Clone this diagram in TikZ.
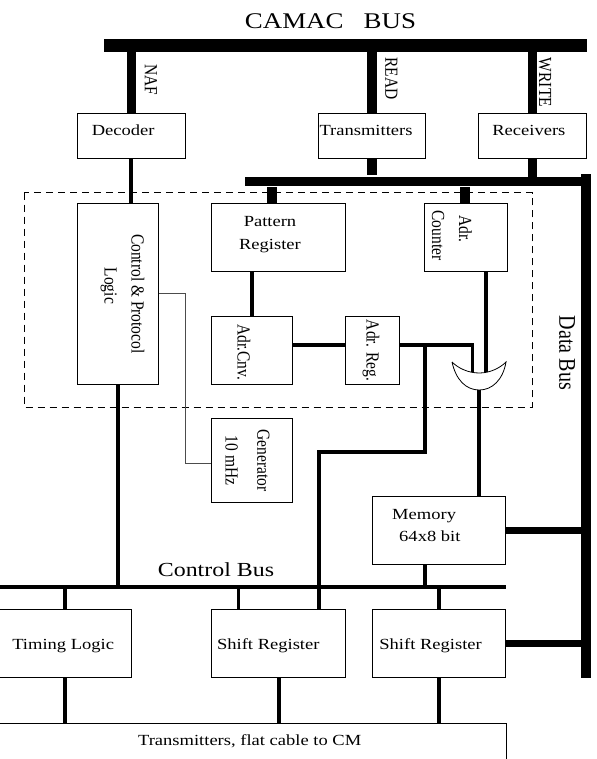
\documentclass[tikz,border=0pt]{standalone}
\usepackage{fontspec}
\setmainfont{Liberation Serif}
\newfontfamily\hfont[FakeStretch=1.2]{Liberation Serif}
\newfontfamily\vfont[FakeStretch=0.84]{Liberation Serif}
\newcommand{\vtxt}[1]{\rotatebox{-90}{\vfont\fontsize{18.5}{27}\selectfont\begin{tabular}{@{}c@{}}#1\end{tabular}}}
\newcommand{\lift}[2]{\raisebox{#1}[0pt][0pt]{#2}}
\tikzset{
  box/.style={draw, line width=0.7pt, fill=white, inner sep=0pt, font=\hfont\fontsize{15.5}{23}\selectfont, align=center},
  bus/.style={draw, fill=black, inner sep=0pt, line width=0pt},
  thickline/.style={line width=9.3bp},
  midline/.style={line width=3.8bp},
  thinline/.style={line width=0.8pt},
  title/.style={inner sep=0pt, anchor=base, font=\hfont\fontsize{22.5}{24}\selectfont},
  siglabel/.style={inner sep=0pt, rotate=-90, font=\vfont\fontsize{18.5}{20}\selectfont},
}
\begin{document}
\begin{tikzpicture}[x=1bp, y=-1bp]
\useasboundingbox (0,0) rectangle (597,759);
% buses
\node[bus, minimum width=481.5bp, minimum height=12.5bp] (camac) at (345.25,45.6) {};
\node[bus, minimum width=345bp, minimum height=8bp] (databus) at (417.5,181) {};
\node[bus, minimum width=9.2bp, minimum height=502.3bp] (datavert) at (586.1,426.15) {};
\node[bus, minimum width=508bp, minimum height=3.7bp] (ctrlbus) at (251.7,587) {};
\node[title] (camactxt) at (330.5,29) {CAMAC\ \ \ BUS};
\node[title, font=\hfont\fontsize{20}{22}\selectfont] (ctrltxt) at (216,576) {Control Bus};
\node[inner sep=0pt, rotate=-90, font=\vfont\fontsize{24}{26}\selectfont] (datatxt) at (567,353) {Data Bus};
% top row
\node[box, minimum width=107.7bp, minimum height=45.2bp] (decoder) at (131.2,135.9) {\lift{0bp}{Decoder}\hspace*{16bp}};
\node[box, minimum width=107.4bp, minimum height=45.2bp] (transm) at (372,135.9) {\lift{0bp}{Transmitters}\hspace*{12bp}};
\node[box, minimum width=107.7bp, minimum height=45.2bp] (receiv) at (532.2,135.9) {\lift{0bp}{Receivers}\hspace*{6.6bp}};
\node[siglabel] (naf) at (151,80) {NAF};
\node[siglabel] (read) at (391.5,78.5) {READ};
\node[siglabel] (write) at (545,82.5) {WRITE};
% dashed area
\draw[dash pattern=on 7bp off 5bp, line width=0.6pt] (24,192.5) rectangle (532,407);
\node[box, minimum width=80.6bp, minimum height=180.3bp] (control) at (118,293.85) {\hspace*{11bp}\vtxt{Control \& Protocol\\Logic\hspace*{16bp}}};
\node[box, minimum width=133.6bp, minimum height=67.6bp] (pattern) at (278.5,237.5) {\lift{0.5bp}{\begin{tabular}{@{}c@{}}Pattern\\Register\end{tabular}}\hspace*{17bp}};
\node[box, minimum width=80.4bp, minimum height=67.6bp] (counter) at (465.5,237.5) {\vtxt{Adr.\hspace*{17bp}\\Counter\hspace*{4bp}}\hspace*{29bp}};
\node[box, minimum width=80.4bp, minimum height=67.8bp] (adrcnv) at (251.9,350.4) {\vtxt{\hspace*{4bp}Adr.Cnv.}\hspace*{18bp}};
\node[box, minimum width=54bp, minimum height=67.8bp] (adrreg) at (372,350.4) {\vtxt{Adr. Reg.}};
\node[box, minimum width=80.4bp, minimum height=84.5bp] (generator) at (251.9,460.5) {\vtxt{Generator\\[5bp]10 mHz}\hspace*{10bp}};
\node[box, minimum width=133.7bp, minimum height=67.6bp] (memory) at (438.85,530.5) {\lift{0.75bp}{\begin{tabular}{@{}c@{}}Memory\hspace*{11.4bp}\\[-1.3bp]64x8 bit\end{tabular}}\hspace*{18bp}};
% bottom row
\node[box, minimum width=134.3bp, minimum height=68bp] (timing) at (64.15,643.3) {\lift{-6bp}{Timing Logic}\hspace*{2bp}};
\node[box, minimum width=134bp, minimum height=68bp] (shifta) at (278.3,643.3) {\lift{-6bp}{Shift Register}\hspace*{20bp}};
\node[box, minimum width=133.7bp, minimum height=68bp] (shiftb) at (438.85,643.3) {\lift{-6bp}{Shift Register}\hspace*{16.5bp}};
\node[box, minimum width=507.7bp, minimum height=40bp, anchor=north west] (flat) at (-2,722.7) {\lift{-2.3bp}{Transmitters, flat cable to CM}\hspace*{5bp}};
% or gate
\coordinate (gatel) at (452,362);
\coordinate (gater) at (506,362);
\coordinate (gateb) at (479.3,390);
\coordinate (gatet) at (479.3,373);
\coordinate (regbend) at (472.5,344.7);
\coordinate (regtap) at (425.3,344.7);
\coordinate (shiftbend) at (318.7,452);
\coordinate (txstub) at (372,175.3);
\coordinate (patstub) at (272,187);
\coordinate (cntstub) at (465,187);
\coordinate (genbend) at (185,463.3);
% connectors
\draw[thickline] (131.3,0 |- camac.south) -- (131.3,0 |- decoder.north);
\draw[thickline] (372,0 |- camac.south) -- (372,0 |- transm.north);
\draw[thickline] (532.7,0 |- camac.south) -- (532.7,0 |- receiv.north);
\draw[thickline] (transm.south -| txstub) -- (txstub);
\draw[thickline] (patstub) -- (patstub |- pattern.north);
\draw[thickline] (cntstub) -- (cntstub |- counter.north);
\draw[thickline] (532.7,0 |- receiv.south) -- (532.7,0 |- databus.north);
\draw[midline, line width=4.3bp] (131.2,0 |- decoder.south) -- (131.2,0 |- control.north);
\draw[midline] (252,0 |- pattern.south) -- (252,0 |- adrcnv.north);
\draw[midline] (adrcnv.east |- regbend) -- (adrreg.west |- regbend);
\draw[midline] (adrreg.east |- regbend) -- (regbend) -- (regbend |- gatet);
\draw[midline] (486,0 |- counter.south) -- (486,0 |- gatet);
\draw[midline] (regtap) -- (regtap |- shiftbend) -- (shiftbend) -- (shiftbend |- shifta.north);
\draw[midline] (gateb) -- (gateb |- memory.north);
\draw[midline] (118,0 |- control.south) -- (118,0 |- ctrlbus.north);
\draw[thinline, black!70] (control.east) -- (control.east -| genbend) -- (genbend) -- (genbend -| generator.west);
\draw[midline] (425.3,0 |- memory.south) -- (425.3,0 |- ctrlbus.north);
\draw[midline] (64.7,0 |- ctrlbus.south) -- (64.7,0 |- timing.north);
\draw[midline] (238.5,0 |- ctrlbus.south) -- (238.5,0 |- shifta.north);
\draw[midline] (438.7,0 |- ctrlbus.south) -- (438.7,0 |- shiftb.north);
\draw[midline] (64.7,0 |- timing.south) -- (64.7,0 |- flat.north);
\draw[midline] (278.7,0 |- shifta.south) -- (278.7,0 |- flat.north);
\draw[midline] (438.7,0 |- shiftb.south) -- (438.7,0 |- flat.north);
\draw[thickline, line width=7.6bp] (memory.east) -- (memory.east -| datavert.west);
\draw[thickline, line width=7.3bp] (shiftb.east) -- (shiftb.east -| datavert.west);
% gate is drawn over the wires that end on it
\draw[thinline, fill=white] (gatel) .. controls (456,380) and (466,390) .. (gateb) .. controls (492,390) and (503,380) .. (gater)
  .. controls (500,368) and (490,373) .. (gatet) .. controls (468,373) and (458,368) .. (gatel);
\end{tikzpicture}
\end{document}
